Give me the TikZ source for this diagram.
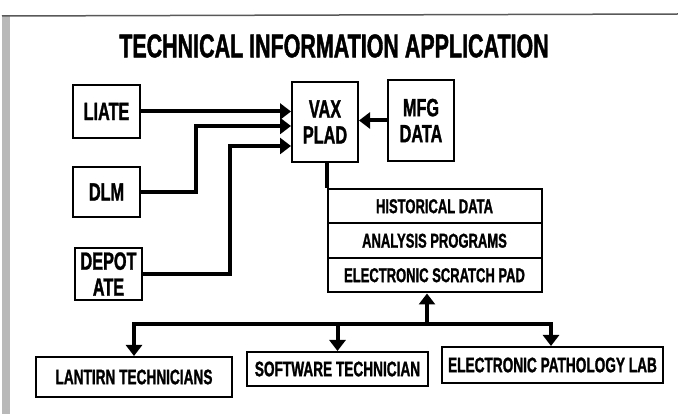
\documentclass[tikz,border=0pt]{standalone}
\usepackage{fontspec}
\newfontfamily\diagfont[FakeStretch=0.65,BoldFeatures={FakeBold=1.2}]{Liberation Sans}
\usepackage{tikz}
\usetikzlibrary{positioning,arrows.meta}

\begin{document}
\begin{tikzpicture}[x=1pt,y=-1pt]
\tikzstyle{box}=[draw,line width=2pt,inner sep=0pt,align=center,font=\diagfont\bfseries\fontsize{25}{26}\selectfont]
\tikzstyle{row}=[box,minimum width=214,minimum height=34.5,font=\diagfont\bfseries\fontsize{20}{20}\selectfont]
\tikzstyle{user}=[box,font=\diagfont\bfseries\fontsize{21}{21}\selectfont]
\tikzstyle{feed}=[line width=4pt,-{Triangle[length=11pt,width=16pt]}]

\useasboundingbox (0,0) rectangle (678,414);
% scan edge
\fill[gray!55] (2,15) rectangle (10,414);
\draw[black!65,line width=1.5pt] (2,16) -- (678,14);

\node[font=\diagfont\bfseries\fontsize{33}{34}\selectfont] (title) at (334,46) {TECHNICAL INFORMATION APPLICATION};

% sources
\node[box,minimum width=67,minimum height=53] (liate) at (106.5,111.5) {LIATE};
\node[box,minimum width=67,minimum height=50] (dlm) at (106.5,192) {DLM};
\node[box,minimum width=67,minimum height=52] (depot) at (108.5,274) {DEPOT\\ATE};
\node[box,minimum width=66,minimum height=80] (vax) at (325,122) {VAX\\PLAD};
\node[box,minimum width=66,minimum height=81] (mfg) at (421,120.5) {MFG\\DATA};

% data store
\node[row] (hist) at (434.5,206.25) {HISTORICAL DATA};
\node[row] (ana) at (434.5,240.75) {ANALYSIS PROGRAMS};
\node[row] (pad) at (434.5,275.25) {ELECTRONIC SCRATCH PAD};

% users
\node[user,minimum width=196,minimum height=40] (lantirn) at (134,377) {LANTIRN TECHNICIANS};
\node[user,minimum width=181,minimum height=34] (software) at (337.5,369) {SOFTWARE TECHNICIAN};
\node[user,minimum width=221,minimum height=36] (epl) at (552.5,365) {ELECTRONIC PATHOLOGY LAB};

\coordinate (dlmup) at (196,126);
\coordinate (depotup) at (230,146);
\coordinate (busL) at (134,324);
\coordinate (busR) at (551,324);
\coordinate (busup) at (427,324);

\draw[feed] (liate.east) -- (liate.east -| vax.west);
\draw[feed] (dlm.east) -| (dlmup) -- (dlmup -| vax.west);
\draw[feed] (depot.east) -| (depotup) -- (depotup -| vax.west);
\draw[feed] (mfg.west) -- (mfg.west -| vax.east);
\draw[line width=4pt] (hist.north west |- vax.south) -- (hist.north west);

\draw[feed] (busR) -- (busL) -- (busL |- lantirn.north);
\draw[feed] (busL) -- (busR) -- (busR |- epl.north);
\draw[feed] (busL -| software) -- (software.north);
\draw[feed] (busup) -- (busup |- pad.south);
\end{tikzpicture}
\end{document}
